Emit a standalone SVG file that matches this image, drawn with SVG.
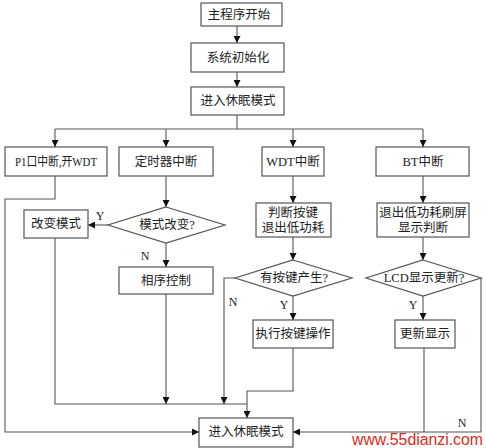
<svg xmlns="http://www.w3.org/2000/svg" width="486" height="448" viewBox="0 0 486 448">
<defs>
<marker id="ah" viewBox="0 0 10 10" refX="10" refY="5" markerWidth="7" markerHeight="7" orient="auto" markerUnits="userSpaceOnUse">
<path d="M0,0 L10,5 L0,10 z" fill="#111"/>
</marker>
<style>
.box{fill:#fff;stroke:#555;stroke-width:1.2}
.t{font-family:"Liberation Serif","Noto Sans CJK SC",serif;font-size:12.5px;fill:#222;text-anchor:middle;dominant-baseline:central}
.lb{font-family:"Liberation Serif",serif;font-size:12px;fill:#222;text-anchor:middle;dominant-baseline:central}
.c{fill:none;stroke:#555;stroke-width:1.1}
.a{marker-end:url(#ah)}
</style>
</defs>
<rect width="486" height="448" fill="#fff"/>
<g id="connectors">
<path class="c a" d="M237,26 V43"/>
<path class="c a" d="M237,72 V87"/>
<path class="c" d="M237,115 V129 M55,129 H423"/>
<path class="c a" d="M55,129 V147"/>
<path class="c a" d="M166,129 V147"/>
<path class="c a" d="M293,129 V147"/>
<path class="c a" d="M423,129 V147"/>
<path class="c a" d="M55,176 V199 H5 V432 H199"/>
<path class="c a" d="M166,176 V207"/>
<path class="c a" d="M108,225 H88"/>
<path class="c a" d="M166,243 V267"/>
<path class="c" d="M55,238 V404 H247"/>
<path class="c a" d="M166,294 V404"/>
<path class="c a" d="M293,176 V203"/>
<path class="c a" d="M293,237 V260"/>
<path class="c a" d="M235,278 H224 V404"/>
<path class="c a" d="M293,296 V320"/>
<path class="c a" d="M293,348 V391 H247 V418"/>
<path class="c a" d="M423,176 V203"/>
<path class="c a" d="M423,237 V260"/>
<path class="c a" d="M423,296 V320"/>
<path class="c" d="M424,348 V432"/>
<path class="c a" d="M481,278 V432 H293"/>
</g>
<g id="n_start"><rect class="box" x="201" y="3" width="81" height="23"/><text class="t" x="239" y="15">主程序开始</text></g>
<g id="n_init"><rect class="box" x="191" y="43" width="93" height="29"/><text class="t" x="238" y="58">系统初始化</text></g>
<g id="n_sleep1"><rect class="box" x="191" y="87" width="93" height="28"/><text class="t" x="238" y="101">进入休眠模式</text></g>
<g id="n_p1"><rect class="box" x="5" y="147" width="102" height="29"/><text class="t" x="56" y="162" font-size="11.5" textLength="82" lengthAdjust="spacingAndGlyphs">P1口中断,开WDT</text></g>
<g id="n_timer"><rect class="box" x="119" y="147" width="94" height="29"/><text class="t" x="166" y="162">定时器中断</text></g>
<g id="n_wdt"><rect class="box" x="262" y="147" width="62" height="29"/><text class="t" x="293" y="162">WDT中断</text></g>
<g id="n_bt"><rect class="box" x="376" y="147" width="93" height="29"/><text class="t" x="423" y="162">BT中断</text></g>
<g id="n_modechg"><path class="box" d="M166,207 L225,225 L166,243 L108,225 z"/><text class="t" x="167" y="225">模式改变?</text></g>
<g id="n_changemode"><rect class="box" x="24" y="210" width="64" height="28"/><text class="t" x="56" y="224">改变模式</text></g>
<g id="n_phase"><rect class="box" x="119" y="267" width="94" height="27"/><text class="t" x="166" y="281">相序控制</text></g>
<g id="n_judge"><rect class="box" x="256" y="203" width="75" height="34"/><text class="t" x="293" y="213">判断按键</text><text class="t" x="293" y="228">退出低功耗</text></g>
<g id="n_keyq"><path class="box" d="M293,260 L352,278 L293,296 L235,278 z"/><text class="t" x="294" y="278">有按键产生?</text></g>
<g id="n_exec"><rect class="box" x="253" y="320" width="80" height="28"/><text class="t" x="293" y="334">执行按键操作</text></g>
<g id="n_exitlow"><rect class="box" x="377" y="203" width="92" height="34"/><text class="t" x="423" y="213">退出低功耗刷屏</text><text class="t" x="423" y="228">显示判断</text></g>
<g id="n_lcdq"><path class="box" d="M423,260 L481,278 L423,296 L366,278 z"/><text class="t" x="424" y="278">LCD显示更新?</text></g>
<g id="n_update"><rect class="box" x="395" y="320" width="60" height="28"/><text class="t" x="425" y="334">更新显示</text></g>
<g id="n_sleep2"><rect class="box" x="199" y="418" width="94" height="29"/><text class="t" x="246" y="432">进入休眠模式</text></g>
<g id="labels">
<text class="lb" x="100" y="216">Y</text>
<text class="lb" x="145" y="256">N</text>
<text class="lb" x="233" y="302">N</text>
<text class="lb" x="284" y="305">Y</text>
<text class="lb" x="413" y="305">Y</text>
<text class="lb" x="462" y="423">N</text>
</g>
<text x="352" y="445" font-family="Liberation Sans, Arial, sans-serif" font-size="16" fill="#e02b20" textLength="131" lengthAdjust="spacingAndGlyphs">www.55dianzi.com</text>
</svg>
